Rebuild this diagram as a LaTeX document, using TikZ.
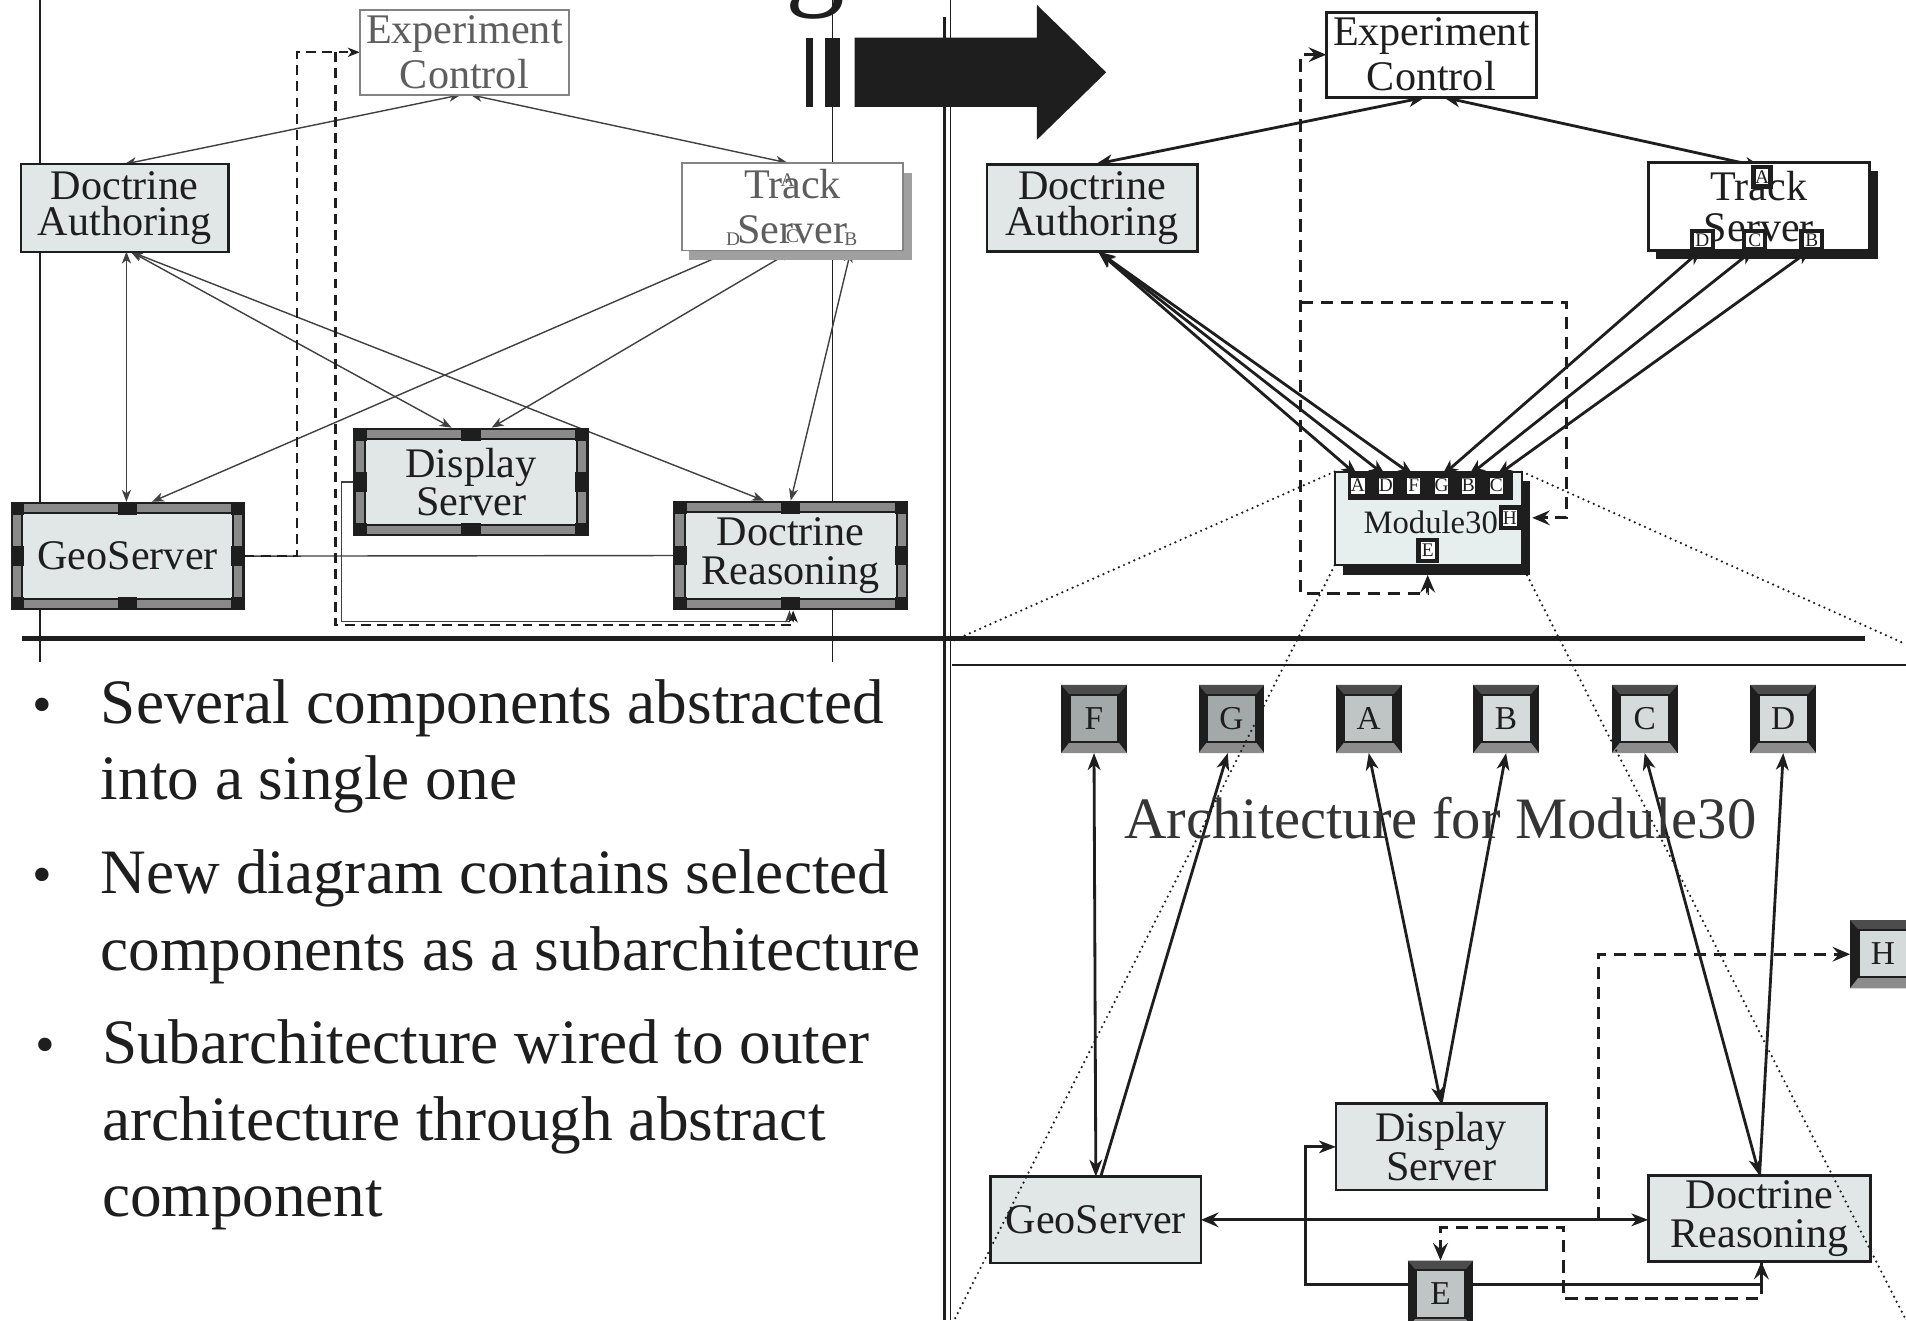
\documentclass[tikz,border=0pt]{standalone}
\usepackage{fontspec}
\setmainfont{Liberation Serif}
\usetikzlibrary{arrows.meta,calc}

\definecolor{ink}{HTML}{1E1E1E}
\definecolor{lightfill}{HTML}{E1E7E7}
\definecolor{modfill}{HTML}{E6EEEE}
\definecolor{fadedtext}{HTML}{5E5E5E}
\definecolor{framegray}{HTML}{8A8A8A}
\definecolor{shadowgray}{HTML}{A0A0A0}
\definecolor{bevtop}{HTML}{4C4C4C}
\definecolor{bevbottom}{HTML}{8C8C8C}
\definecolor{portdark}{HTML}{A3A8A8}
\definecolor{portmid}{HTML}{BFC4C4}
\definecolor{portlight}{HTML}{D5DADA}

\pgfdeclarelayer{back}
\pgfdeclarelayer{front}
\pgfsetlayers{back,main,front}

% one drawing unit
\def\pxu{0.012156cm}

\tikzset{
  every node/.style={inner sep=0pt, outer sep=0pt, text=ink},
  boxfont/.style={font=\fontsize{12}{11}\selectfont, align=center},
  plainbox/.style={boxfont, draw=ink, line width=0.8pt},
  patbox/.style={boxfont, fill=lightfill, draw=ink, line width=0.6pt,
                 double=framegray, double distance=2.4pt, outer sep=1.8pt},
  tinyport/.style={font=\fontsize{5.5}{5.5}\selectfont, fill=white, draw=ink},
  tsport/.style={tinyport, line width=1.2pt, minimum width=17*\pxu, minimum height=14.5*\pxu},
  mport/.style={tinyport, line width=1pt, minimum width=14*\pxu, minimum height=16*\pxu},
  sideport/.style={tinyport, line width=1.2pt, minimum width=15*\pxu, minimum height=17*\pxu},
  thinL/.style={draw=ink!85, line width=0.4pt},
  dashL/.style={draw=ink, line width=0.6pt, dash pattern=on 2.8pt off 1.8pt},
  thickR/.style={draw=ink, line width=0.8pt},
  dashR/.style={draw=ink, line width=0.8pt, dash pattern=on 3.5pt off 2.2pt},
  dotz/.style={draw=ink, line width=0.7pt, line cap=round, dash pattern=on 0pt off 1.6pt},
  tipL/.tip={Stealth[length=3.4pt, width=2.6pt, inset=1pt]},
  tipO/.tip={Stealth[fill=white, length=4.8pt, width=3.6pt, inset=1.4pt]},
  tipD/.tip={Stealth[length=5pt, width=4.2pt, inset=1.8pt]},
  bullettext/.style={font=\fontsize{18}{18}\selectfont, anchor=base west},
  bulletdot/.style={font=\fontsize{16}{16}\selectfont, anchor=base},
}

% dark corner and port blocks of a framed component
\newcommand\patmarks[1]{%
  \fill[ink] (#1.north west) rectangle ++(11,11);
  \fill[ink] (#1.north east) rectangle ++(-11,11);
  \fill[ink] (#1.south west) rectangle ++(11,-11);
  \fill[ink] (#1.south east) rectangle ++(-11,-11);
  \fill[ink] ($(#1.north)+(-8,0)$) rectangle ++(16,11);
  \fill[ink] ($(#1.south)+(-8,0)$) rectangle ++(16,-11);
  \fill[ink] ($(#1.west)+(0,-8)$) rectangle ++(11,16);
  \fill[ink] ($(#1.east)+(0,-8)$) rectangle ++(-11,16);
}

% bevelled interface box: name, x, y, letter, inner colour
\newcommand\bevbox[5]{%
  \node[fill=ink, minimum width=54*\pxu, minimum height=56*\pxu] (#1) at (#2,#3) {};
  \fill[bevtop] (#1.north west) -- (#1.north east) -- ($(#1.north east)+(-7,8)$)
        -- ($(#1.north west)+(7,8)$) -- cycle;
  \fill[bevbottom] (#1.south west) -- (#1.south east) -- ($(#1.south east)+(-7,-9)$)
        -- ($(#1.south west)+(7,-9)$) -- cycle;
  \fill[#5] ($(#1.north west)+(7,8)$) rectangle ($(#1.south east)+(-7,-9)$);
  \draw[ink, line width=0.5pt] ($(#1.north west)+(7,8)$) rectangle ($(#1.south east)+(-7,-9)$);
  \node[font=\fontsize{9.5}{9.5}\selectfont] (#1t) at ($(#1)+(0,-0.5)$) {#4};
}

\begin{document}
\begin{tikzpicture}[x=\pxu, y=-\pxu]
\useasboundingbox (0,0) rectangle (1568,1086);

% title descender peeking in at the top
\begin{scope}
  \clip (0,0) rectangle (1568,1086);
  \node[font=\fontsize{34}{34}\selectfont, anchor=base] (ttlg) at (671,-5) {g};
\end{scope}

% ================= left panel: original architecture =================
\node[plainbox, draw=ink!55, line width=0.5pt, fill=white, text=fadedtext,
      font=\fontsize{12}{12.6}\selectfont,
      minimum width=172*\pxu, minimum height=70*\pxu] (EC1) at (382,43) {Experiment\\Control};
\node[plainbox, line width=0.6pt, fill=lightfill, font=\fontsize{12}{10.4}\selectfont,
      minimum width=171*\pxu, minimum height=72*\pxu] (DA1) at (102.5,171) {Doctrine\\Authoring};
\fill[shadowgray] (567,142) rectangle (750,214);
\node[plainbox, draw=ink!55, line width=0.5pt, fill=white, text=fadedtext,
      font=\fontsize{12}{13}\selectfont,
      minimum width=182*\pxu, minimum height=72*\pxu] (TS1) at (652,170) {Track\\Server};
\node[font=\fontsize{5.5}{5.5}\selectfont, text=fadedtext] (ts1A) at (648,148) {A};
\node[font=\fontsize{5.5}{5.5}\selectfont, text=fadedtext] (ts1D) at (603,197) {D};
\node[font=\fontsize{5.5}{5.5}\selectfont, text=fadedtext] (ts1C) at (652,194) {C};
\node[font=\fontsize{5.5}{5.5}\selectfont, text=fadedtext] (ts1B) at (700,197) {B};

\node[patbox, minimum width=182*\pxu, minimum height=79*\pxu] (GS1) at (105,457.5) {GeoServer};
\node[patbox, minimum width=183*\pxu, minimum height=79*\pxu] (DS1) at (387.5,396.5) {Display\\Server};
\node[patbox, minimum width=183*\pxu, minimum height=80*\pxu] (DR1) at (650.5,457) {Doctrine\\Reasoning};
\patmarks{GS1}
\patmarks{DS1}
\patmarks{DR1}

% ================= upper right: abstracted architecture =================
\node[plainbox, fill=white, font=\fontsize{12}{12.8}\selectfont,
      minimum width=173*\pxu, minimum height=70*\pxu] (EC2) at (1177.5,45) {Experiment\\Control};
\node[plainbox, fill=lightfill, font=\fontsize{12}{10.4}\selectfont,
      minimum width=173*\pxu, minimum height=72*\pxu] (DA2) at (898.5,171) {Doctrine\\Authoring};
\fill[ink] (1362,141) rectangle (1545,213);
\node[plainbox, fill=white, font=\fontsize{12}{11.8}\selectfont,
      minimum width=182*\pxu, minimum height=72*\pxu] (TS2) at (1447,170) {Track\\Server};
\node[tsport, minimum width=14*\pxu, minimum height=16*\pxu] (ts2A) at (1449.5,145.5) {A};
\node[tsport] (ts2D) at (1400.5,197.5) {D};
\node[tsport] (ts2C) at (1443.5,197.5) {C};
\node[tsport] (ts2B) at (1490.5,197.5) {B};

% Module30 with its interface ports
\fill[ink] (1105,396) rectangle (1259,473);
\node[draw=ink, line width=0.6pt, fill=modfill,
      minimum width=154*\pxu, minimum height=77*\pxu] (M30) at (1175,426.5) {};
\node[font=\fontsize{9.3}{9.3}\selectfont] (M30lbl) at (1177,430) {Module30};
\fill[ink] (1109,388) rectangle (1245,411);
\node[mport] (m30A) at (1117,399.5) {A};
\node[mport] (m30D) at (1140,399.5) {D};
\node[mport] (m30F) at (1163,399.5) {F};
\node[mport] (m30G) at (1186,399.5) {G};
\node[mport] (m30B) at (1208,399.5) {B};
\node[mport] (m30C) at (1231,399.5) {C};
\node[sideport] (m30H) at (1242,426) {H};
\node[sideport] (m30E) at (1174.5,453) {E};

% ================= lower right: architecture for Module30 =================
\bevbox{pF}{900}{591.5}{F}{portdark}
\bevbox{pG}{1013}{591.5}{G}{portdark}
\bevbox{pA}{1126}{591.5}{A}{portmid}
\bevbox{pB}{1239}{591.5}{B}{portlight}
\bevbox{pC}{1353}{591.5}{C}{portlight}
\bevbox{pD}{1467}{591.5}{D}{portlight}
\bevbox{pH}{1549}{785}{H}{portlight}
\bevbox{pE}{1185}{1065}{E}{portmid}

\node[plainbox, fill=lightfill, minimum width=173*\pxu, minimum height=71*\pxu] (DS3) at (1185.5,943.5) {Display\\Server};
\node[plainbox, fill=lightfill, minimum width=173*\pxu, minimum height=71*\pxu] (GS3) at (901.5,1003.5) {GeoServer};
\node[plainbox, fill=lightfill, minimum width=183*\pxu, minimum height=71*\pxu] (DR3) at (1447.5,1002.5) {Doctrine\\Reasoning};

\node[font=\fontsize{16.7}{16.7}\selectfont, text=ink!90] (archT) at (1185,673) {Architecture for Module30};

% ================= bullet points =================
\node[bulletdot] (d1) at (35,595) {•};
\node[bullettext] (s1a) at (83,595) {Several components abstracted};
\node[bullettext] (s1b) at (83,658) {into a single one};
\node[bulletdot] (d2) at (35,735) {•};
\node[bullettext] (s2a) at (83,735) {New diagram contains selected};
\node[bullettext] (s2b) at (83,798) {components as a subarchitecture};
\node[bulletdot] (d3) at (37,875) {•};
\node[bullettext] (s3a) at (84,875) {Subarchitecture wired to outer};
\node[bullettext] (s3b) at (84,938) {architecture through abstract};
\node[bullettext] (s3c) at (84,1001) {component};

% ================= frames, banner arrow and connectors =================
\begin{pgfonlayer}{back}
  \fill[white] (0,0) rectangle (1568,1086);
  % panel frames
  \draw[ink, line width=0.4pt] (33,0) -- (33,545);
  \draw[ink, line width=0.4pt] (685,0) -- (685,545);
  \draw[ink, line width=1.1pt] (777,14) -- (777,1086);
  \draw[ink, line width=0.4pt] (782,0) -- (782,1086);
  \draw[ink, line width=1.4pt] (18,525) -- (1534,525);
  \draw[ink, line width=0.4pt] (783,547) -- (1568,547);
  % banner arrow
  \fill[ink] (663,31) rectangle (669,88);
  \fill[ink] (679,31) rectangle (691,88);
  \fill[ink] (703,31) -- (853,31) -- (853,4) -- (910,59.5) -- (853,115)
        -- (853,88) -- (703,88) -- cycle;

  % left panel links
  \draw[thinL, {tipL}-{tipL}] ($(EC1.south)+(-3,0)$) -- (DA1.north);
  \draw[thinL, {tipL}-{tipL}] ($(EC1.south)+(5,0)$) -- ($(TS1.north)+(-4,0)$);
  \draw[thinL, {tipL}-{tipL}] ($(DA1.south)+(1.5,0)$) -- ($(GS1.north)+(-1,0)$);
  \draw[thinL, {tipL}-{tipL}] ($(DA1.south)+(5,0)$) -- ($(DS1.north)+(-16,0)$);
  \draw[thinL, {tipL}-{tipL}] ($(DA1.south)+(5,0)$) -- ($(DR1.north)+(-22,0)$);
  \draw[thinL, {tipL}-{tipL}] ($(GS1.north)+(20,0)$) -- (TS1.south -| ts1D);
  \draw[thinL, {tipL}-{tipL}] ($(DS1.north)+(17,0)$) -- (TS1.south -| ts1C);
  \draw[thinL, {tipL}-{tipL}] (DR1.north) -- (TS1.south -| ts1B);
  \draw[thinL] (GS1.east) -- (DR1.west);
  \draw[thinL, -{tipL}] (DS1.west) -- ++(-10,0) -- ++(0,115) -| ($(DR1.south)+(-1,0)$);
  \draw[dashL, -{tipL}] (GS1.east) -- ++(43,0) |- (EC1.west);
  \draw[dashL, -{tipL}] ($(EC1.west)+(-20,0)$) -- ++(0,471) -| ($(DR1.south)+(2,0)$);

  % upper right links
  \draw[thickR, {tipO}-{tipO}] ($(EC2.south)+(-5,0)$) -- ($(DA2.north)+(3,0)$);
  \draw[thickR, {tipO}-{tipO}] ($(EC2.south)+(10,0)$) -- (ts2A.north);
  \draw[thickR, {tipO}-{tipO}] ($(DA2.south)+(5,0)$) -- (m30A.north);
  \draw[thickR, {tipO}-{tipO}] ($(DA2.south)+(5,0)$) -- (m30D.north);
  \draw[thickR, {tipO}-{tipO}] ($(DA2.south)+(5,0)$) -- (m30F.north);
  \draw[thickR, {tipO}-{tipO}] (ts2D.south) -- (m30G.north);
  \draw[thickR, {tipO}-{tipO}] (ts2C.south) -- (m30B.north);
  \draw[thickR, {tipO}-{tipO}] (ts2B.south) -- (m30C.north);
  \draw[dashR, {tipD}-{tipD}] (EC2.west) -- ++(-21,0) -- ++(0,443)
        -| ($(M30.south -| m30E)+(0,8)$);
  \coordinate (dashJ) at ($(EC2.west)+(-21,204)$);
  \draw[dashR, -{tipD}] (dashJ) -- ++(219,0) |- ($(m30H.east)+(11,0)$);

  % lower panel links
  \draw[thickR, {tipO}-{tipO}] (pF.south) -- (GS3.north);
  \draw[thickR, {tipO}-] ($(pG.south)+(-3,0)$) -- ($(GS3.north)+(4,0)$);
  \draw[thickR, {tipO}-{tipO}] (pA.south) -- (DS3.north);
  \draw[thickR, {tipO}-] (pB.south) -- (DS3.north);
  \draw[thickR, {tipO}-{tipO}] (pC.south) -- (DR3.north);
  \draw[thickR, {tipO}-] (pD.south) -- (DR3.north);
  \draw[thickR, {tipD}-{tipO}] (GS3.east) -- (GS3.east -| DR3.west);
  \draw[thickR, -{tipO}] ($(pE.west)+(0,-8)$) -- ++(-84,0) |- (DS3.west);
  \draw[thickR, -{tipD}] ($(pE.east)+(0,-8)$) -| ($(DR3.south)+(1.5,0)$);
  \coordinate (hJ) at (1315,1003);
  \draw[dashR, -{tipD}] (hJ) |- (pH.west);
  \draw[dashR, -{tipD}] ($(DR3.south)+(1.5,0)$) -- ++(0,30) -- ++(-163,0) -- ++(0,-58) -| (pE.north);
\end{pgfonlayer}

% ================= zoom projection lines =================
\begin{pgfonlayer}{front}
  \coordinate (zTL) at (782,528);
  \coordinate (zTR) at (1568,530);
  \coordinate (zBL) at (785,1086);
  \coordinate (zBR) at (1568,1086);
  \draw[dotz] (M30.north west) -- (zTL);
  \draw[dotz] (M30.north east) -- (zTR);
  \draw[dotz] (M30.south west) -- (zBL);
  \draw[dotz] (M30.south east) -- (zBR);
\end{pgfonlayer}
\end{tikzpicture}
\end{document}
